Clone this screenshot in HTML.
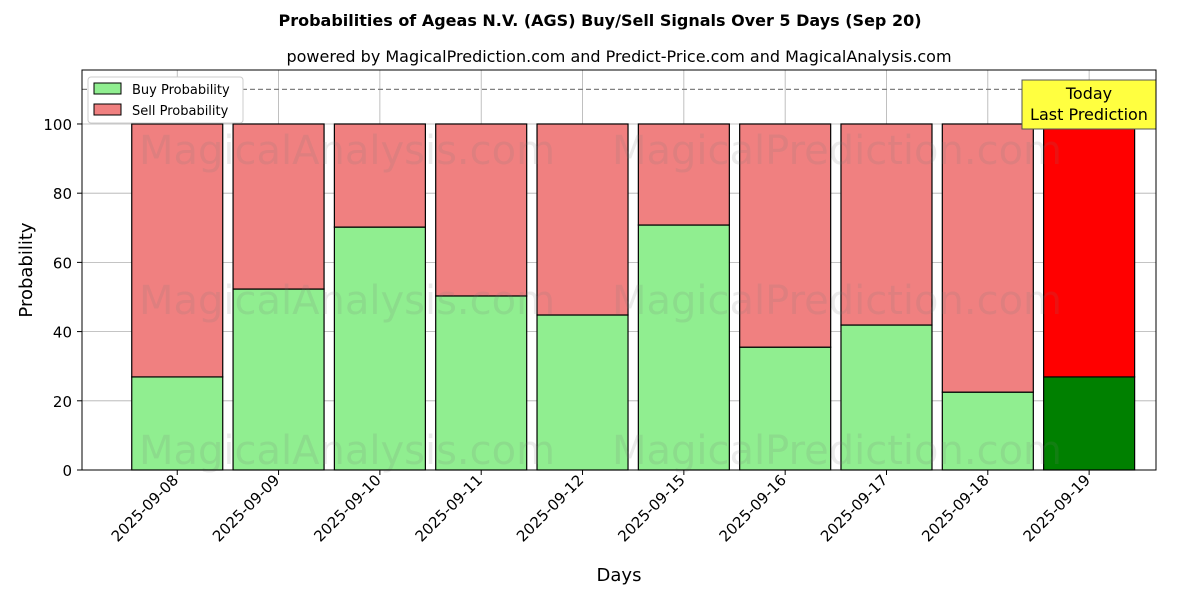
<!DOCTYPE html>
<html><head><meta charset="utf-8"><style>
body{margin:0;background:#fff;font-family:"Liberation Sans","DejaVu Sans",sans-serif}
</style></head><body>
<svg id="chart" width="1200" height="600" xmlns="http://www.w3.org/2000/svg" font-family="DejaVu Sans, Liberation Sans, sans-serif"></svg>
<script>
const dates=["2025-09-08","2025-09-09","2025-09-10","2025-09-11","2025-09-12","2025-09-15","2025-09-16","2025-09-17","2025-09-18","2025-09-19"];
const buyValues=[26.9,52.3,70.2,50.3,44.8,70.8,35.5,41.9,22.5,26.9];
const yTicks=[0,20,40,60,80,100];
const L=82,R=1156,T=70,B=470;
const xMin=-0.94,xMax=9.66,yMin=0,yMax=115.6;
const xs=i=>L+(i-xMin)/(xMax-xMin)*(R-L);
const ys=v=>B-(v-yMin)/(yMax-yMin)*(B-T);
const svg=document.getElementById('chart');
const NS="http://www.w3.org/2000/svg";
function mk(tag,attrs,parent){const e=document.createElementNS(NS,tag);for(const k in attrs)e.setAttribute(k,attrs[k]);(parent||svg).appendChild(e);return e;}
let t=mk('text',{x:600,y:26,'text-anchor':'middle','font-size':16,'font-weight':'bold'});t.textContent="Probabilities of Ageas N.V. (AGS) Buy/Sell Signals Over 5 Days (Sep 20)";


t=mk('text',{x:619,y:62,'text-anchor':'middle','font-size':16});t.textContent="powered by MagicalPrediction.com and Predict-Price.com and MagicalAnalysis.com";


yTicks.forEach(v=>{const l=mk('line',{x1:L,x2:R,y1:ys(v),y2:ys(v),stroke:'#b0b0b0','stroke-width':0.8});


const tk=mk('text',{x:L-10,y:ys(v)+6,'text-anchor':'end','font-size':15});tk.textContent=v;


mk('line',{x1:L-5,x2:L,y1:ys(v),y2:ys(v),stroke:'#000'});});
dates.forEach((d,i)=>{const l=mk('line',{x1:xs(i),x2:xs(i),y1:T,y2:B,stroke:'#b0b0b0','stroke-width':0.8});

});
const bw=91;
dates.forEach((d,i)=>{const last=i===dates.length-1;const x=xs(i)-bw/2;
const b=mk('rect',{x:x,y:ys(buyValues[i]),width:bw,height:ys(0)-ys(buyValues[i]),fill:last?'#008000':'#90ee90',stroke:'#000','stroke-width':1.2});


const s=mk('rect',{x:x,y:ys(100),width:bw,height:ys(buyValues[i])-ys(100),fill:last?'#ff0000':'#f08080',stroke:'#000','stroke-width':1.2});


mk('line',{x1:xs(i),x2:xs(i),y1:B,y2:B+5,stroke:'#000'});
const lb=mk('text',{transform:`translate(${xs(i)+2},${B+11}) rotate(-45)`,'text-anchor':'end','font-size':15});lb.textContent=d;

});
[[347,150,"MagicalAnalysis.com"],[837,150,"MagicalPrediction.com"],[347,300,"MagicalAnalysis.com"],[837,300,"MagicalPrediction.com"],[347,450,"MagicalAnalysis.com"],[837,450,"MagicalPrediction.com"]].forEach(w=>{
const e=mk('text',{x:w[0],y:w[1]+14,'text-anchor':'middle','font-size':40,fill:'rgba(120,120,120,0.15)'});e.textContent=w[2];

});
const dl=mk('line',{x1:L,x2:R,y1:ys(110),y2:ys(110),stroke:'#808080','stroke-width':1.2,'stroke-dasharray':'5,3'});


const g=mk('g',{});
mk('rect',{x:1022,y:80,width:134,height:49,fill:'#ffff40',stroke:'#555','stroke-width':1},g);
let a=mk('text',{x:1089,y:99,'text-anchor':'middle','font-size':16},g);a.textContent="Today";
a=mk('text',{x:1089,y:120,'text-anchor':'middle','font-size':16},g);a.textContent="Last Prediction";
const fr=mk('rect',{x:L,y:T,width:R-L,height:B-T,fill:'none',stroke:'#000','stroke-width':1});


t=mk('text',{x:619,y:581,'text-anchor':'middle','font-size':18});t.textContent="Days";


t=mk('text',{transform:'translate(32,270) rotate(-90)','text-anchor':'middle','font-size':18});t.textContent="Probability";


const lg=mk('g',{});
mk('rect',{x:88,y:77,width:155,height:46,fill:'#fff',stroke:'#ccc',rx:3},lg);
mk('rect',{x:94,y:83,width:27,height:11,fill:'#90ee90',stroke:'#000'},lg);
a=mk('text',{x:132,y:94,'font-size':13},lg);a.textContent="Buy Probability";
mk('rect',{x:94,y:104,width:27,height:11,fill:'#f08080',stroke:'#000'},lg);
a=mk('text',{x:132,y:115,'font-size':13},lg);a.textContent="Sell Probability";
</script>
</body></html>
